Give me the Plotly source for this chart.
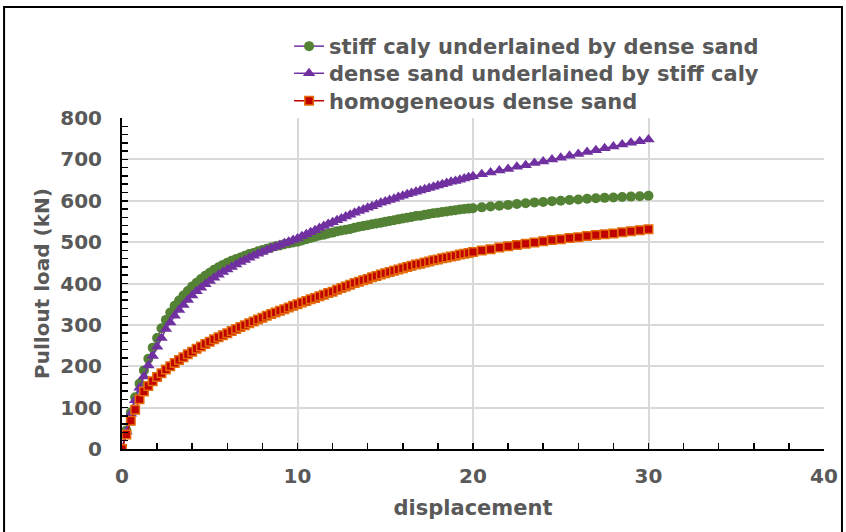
import plotly.graph_objects as go

# displacement values (x)
displacement = [0, 0.25, 0.5, 0.75, 1, 1.25, 1.5, 1.75, 2, 2.25, 2.5, 2.75, 3,
                3.25, 3.5, 3.75, 4, 4.25, 4.5, 4.75, 5, 5.25, 5.5, 5.75, 6,
                6.25, 6.5, 6.75, 7, 7.25, 7.5, 7.75, 8, 8.25, 8.5, 8.75, 9,
                9.25, 9.5, 9.75, 10, 10.25, 10.5, 10.75, 11, 11.25, 11.5, 11.75, 12,
                12.25, 12.5, 12.75, 13, 13.25, 13.5, 13.75, 14, 14.25, 14.5, 14.75, 15,
                15.25, 15.5, 15.75, 16, 16.25, 16.5, 16.75, 17, 17.25, 17.5, 17.75, 18,
                18.25, 18.5, 18.75, 19, 19.25, 19.5, 19.75, 20,
                20.5, 21, 21.5, 22, 22.5, 23, 23.5, 24, 24.5, 25,
                25.5, 26, 26.5, 27, 27.5, 28, 28.5, 29, 29.5, 30]

clay_over_sand = [0, 45, 88, 125, 158, 190, 218, 245, 268, 292, 312, 330, 346,
                  359, 371, 382, 393, 402, 411, 419, 426, 433, 439, 445, 450,
                  455, 459, 463, 467, 471, 474, 478, 481, 484, 487, 490, 492,
                  495, 497, 499, 501, 504, 507, 510, 513, 516, 518, 521, 523,
                  526, 528, 530, 532, 535, 537, 539, 541, 543, 545, 547, 549,
                  551, 553, 555, 557, 559, 561, 563, 564, 566, 568, 570, 571,
                  573, 574, 576, 577, 579, 580, 581, 582,
                  584, 586, 588, 590, 592, 594, 596, 597, 599, 600,
                  602, 603, 605, 606, 607, 608, 609, 610, 611, 612]

sand_over_clay = [0, 42, 85, 118, 148, 175, 202, 225, 247, 268, 290, 306, 322,
                  336, 348, 360, 371, 381, 390, 398, 406, 414, 421, 428, 434,
                  440, 446, 452, 457, 462, 467, 472, 476, 481, 485, 489, 493,
                  497, 501, 505, 509, 514, 519, 524, 529, 534, 539, 544, 548,
                  553, 557, 562, 566, 571, 575, 579, 583, 587, 591, 595, 598,
                  602, 605, 609, 612, 616, 619, 622, 625, 628, 631, 634, 637,
                  640, 643, 646, 648, 651, 654, 657, 659,
                  664, 668, 673, 677, 682, 686, 691, 695, 700, 704,
                  709, 713, 718, 722, 727, 731, 736, 740, 744, 748]

homogeneous_sand = [0, 35, 68, 95, 120, 139, 152, 164, 174, 183, 192, 200, 208,
                    215, 222, 229, 235, 242, 248, 254, 259, 265, 270, 275, 280,
                    285, 290, 295, 299, 304, 308, 313, 317, 322, 326, 330, 334,
                    338, 342, 346, 350, 354, 358, 362, 365, 369, 373, 377, 380,
                    385, 389, 393, 397, 401, 404, 408, 411, 415, 418, 422, 425,
                    428, 431, 434, 437, 440, 443, 446, 448, 451, 453, 456, 458,
                    461, 463, 465, 467, 470, 472, 474, 476,
                    480, 483, 487, 490, 493, 496, 499, 502, 505, 507,
                    510, 512, 515, 517, 519, 521, 524, 526, 529, 531]

names = ["stiff caly underlained by dense sand",
         "dense sand underlained by stiff caly",
         "homogeneous dense sand"]

x_ticks = [0, 10, 20, 30, 40]
y_ticks = [0, 100, 200, 300, 400, 500, 600, 700, 800]

TXT = "#595959"
FONT = "DejaVu Sans"

fig = go.Figure()
fig.add_trace(go.Scatter(
    x=displacement, y=clay_over_sand, name=names[0], mode="lines+markers",
    legend="legend",
    line=dict(color="#7030A0", width=1.5),
    marker=dict(symbol="circle", size=10, color="#548235", line=dict(width=0))))
fig.add_trace(go.Scatter(
    x=displacement, y=sand_over_clay, name=names[1], mode="lines+markers",
    legend="legend2",
    line=dict(color="#7030A0", width=1.5),
    marker=dict(symbol="triangle-up", size=11, color="#7030A0", line=dict(width=0))))
fig.add_trace(go.Scatter(
    x=displacement, y=homogeneous_sand, name=names[2], mode="lines+markers",
    legend="legend3",
    line=dict(color="#C00000", width=1.5),
    marker=dict(symbol="square", size=8.5, color="#C00000",
                line=dict(width=1.5, color="#E46C0A"))))

leg_font = dict(family=FONT, size=21, color=TXT, weight="bold")


def leg(y):
    return dict(x=0.238, y=y, xanchor="left", yanchor="top",
                bgcolor="rgba(0,0,0,0)", font=leg_font, itemwidth=30)


fig.update_layout(
    width=846, height=532,
    margin=dict(l=122, r=22, t=118, b=83, autoexpand=False),
    paper_bgcolor="white", plot_bgcolor="white",
    font=dict(family=FONT, color=TXT),
    showlegend=True,
    legend=leg(1.278), legend2=leg(1.196), legend3=leg(1.113),
    xaxis=dict(range=[0, 40], tickvals=x_ticks, ticktext=[str(v) for v in x_ticks],
               showgrid=True, gridcolor="#D9D9D9", gridwidth=2,
               showline=True, linecolor="black", linewidth=2,
               ticks="inside", ticklen=6, tickcolor="black", tickwidth=1.5,
               minor=dict(dtick=2, ticks="inside", ticklen=6, tickcolor="black",
                          tickwidth=1.5, showgrid=False),
               tickfont=dict(family=FONT, size=20, color=TXT, weight="bold"),
               ticklabelstandoff=8,
               title=dict(text="displacement",
                          font=dict(family=FONT, size=21, color=TXT, weight="bold"),
                          standoff=13),
               zeroline=False, fixedrange=True, automargin=False),
    yaxis=dict(range=[0, 800], tickvals=y_ticks, ticktext=[str(v) for v in y_ticks],
               showgrid=True, gridcolor="#D9D9D9", gridwidth=2,
               showline=True, linecolor="black", linewidth=2,
               ticks="inside", ticklen=6, tickcolor="black", tickwidth=1.5,
               minor=dict(dtick=20, ticks="inside", ticklen=6, tickcolor="black",
                          tickwidth=1.5, showgrid=False),
               tickfont=dict(family=FONT, size=20, color=TXT, weight="bold"),
               ticklabelstandoff=14,
               title=dict(text="Pullout load (kN)",
                          font=dict(family=FONT, size=20, color=TXT, weight="bold"),
                          standoff=5),
               zeroline=False, fixedrange=True, automargin=False),
)

# outer chart border
fig.add_shape(type="rect", xref="paper", yref="paper",
              x0=-0.168, x1=1.0256, y0=-0.27, y1=1.335,
              line=dict(color="black", width=2), fillcolor="rgba(0,0,0,0)",
              layer="below")

fig.write_html(
    "out.html",
    config={"displayModeBar": False, "staticPlot": True},
    post_script="document.body.style.margin='0';document.body.style.overflow='hidden';",
)
